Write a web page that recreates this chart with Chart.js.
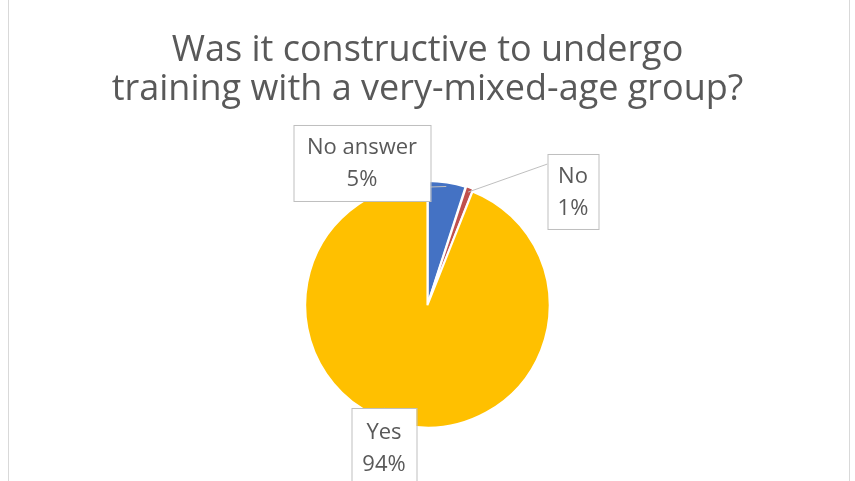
<!DOCTYPE html>
<html lang="en">
<head>
    <meta charset="UTF-8">
    <title>Mixed-age group training</title>
    <script src="https://cdn.jsdelivr.net/npm/chart.js"></script>
    <style>
        body {
            margin: 0;
            background: #ffffff;
        }
        .chart-container {
            width: 855px;
            height: 481px;
        }
    </style>
</head>
<body>
    <div class="chart-container">
        <canvas id="pieChart"></canvas>
    </div>

    <script>
        // data
        const titleLines = ['Was it constructive to undergo', 'training with a very-mixed-age group?'];
        const categories = ['No answer', 'No', 'Yes'];
        const shares = [5, 1, 94];
        const sliceColors = ['#4472C4', '#C0504D', '#FFC000'];

        // where each callout box sits, relative to the pie centre
        const callouts = [
            { dx: -134, dy: -180, w: 137, h: 76, tip: 'right' },
            { dx: 120, dy: -151, w: 51, h: 75, tip: 'left' },
            { dx: -76, dy: 103, w: 65, h: 80, tip: 'top' }
        ];

        const frameLines = {
            id: 'frameLines',
            beforeDraw(chart) {
                const ctx = chart.ctx;
                ctx.save();
                ctx.fillStyle = '#ffffff';
                ctx.fillRect(0, 0, chart.width, chart.height);
                ctx.strokeStyle = '#d9d9d9';
                ctx.lineWidth = 1;
                ctx.beginPath();
                ctx.moveTo(8.5, 0);
                ctx.lineTo(8.5, chart.height);
                ctx.moveTo(849.5, 0);
                ctx.lineTo(849.5, chart.height);
                ctx.stroke();
                ctx.restore();
            }
        };

        const calloutLabels = {
            id: 'calloutLabels',
            afterDatasetsDraw(chart) {
                const ctx = chart.ctx;
                const arcs = chart.getDatasetMeta(0).data;
                const total = shares.reduce((a, b) => a + b, 0);
                ctx.save();
                arcs.forEach((arc, i) => {
                    const p = arc.getProps(['x', 'y', 'startAngle', 'endAngle', 'outerRadius']);
                    const c = callouts[i];
                    const cx = chart.chartArea.left + chart.chartArea.width / 2;
                    const cy = chart.chartArea.top + chart.chartArea.height / 2;
                    const bx = cx + c.dx;
                    const by = cy + c.dy;
                    const mid = (p.startAngle + p.endAngle) / 2;
                    const ax = p.x + Math.cos(mid) * (p.outerRadius - 2);
                    const ay = p.y + Math.sin(mid) * (p.outerRadius - 2);

                    // leader line
                    let sx, sy;
                    if (c.tip === 'right') { sx = bx + c.w; sy = by + c.h - 14; }
                    else if (c.tip === 'left') { sx = bx; sy = by + 10; }
                    else { sx = bx + c.w / 2; sy = by; }
                    ctx.strokeStyle = '#bfbfbf';
                    ctx.lineWidth = 1;
                    ctx.beginPath();
                    ctx.moveTo(sx, sy);
                    ctx.lineTo(ax, ay);
                    ctx.stroke();

                    // box
                    ctx.fillStyle = '#ffffff';
                    ctx.fillRect(bx, by, c.w, c.h);
                    ctx.strokeStyle = '#bfbfbf';
                    ctx.strokeRect(bx + 0.5, by + 0.5, c.w, c.h);

                    // text
                    const pct = Math.round(shares[i] / total * 100) + '%';
                    ctx.fillStyle = '#595959';
                    ctx.font = '22px "Open Sans"';
                    ctx.textAlign = 'center';
                    ctx.textBaseline = 'middle';
                    ctx.fillText(categories[i], bx + c.w / 2, by + c.h / 2 - 15);
                    ctx.fillText(pct, bx + c.w / 2, by + c.h / 2 + 17);
                });
                ctx.restore();
            }
        };

        const ctx = document.getElementById('pieChart').getContext('2d');
        new Chart(ctx, {
            type: 'pie',
            data: {
                labels: categories,
                datasets: [{
                    data: shares,
                    backgroundColor: sliceColors,
                    borderColor: '#ffffff',
                    borderWidth: 2,
                    offset: [5, 6, 1]
                }]
            },
            options: {
                responsive: true,
                maintainAspectRatio: false,
                animation: false,
                layout: {
                    padding: { top: 0, bottom: 50, left: 0, right: 0 }
                },
                plugins: {
                    legend: { display: false },
                    tooltip: { enabled: false },
                    title: {
                        display: true,
                        text: titleLines,
                        color: '#595959',
                        font: { family: 'Open Sans', size: 36, weight: 'normal', lineHeight: 1.083 },
                        padding: { top: 31, bottom: 70 }
                    }
                }
            },
            plugins: [frameLines, calloutLabels]
        });
    </script>
</body>
</html>
